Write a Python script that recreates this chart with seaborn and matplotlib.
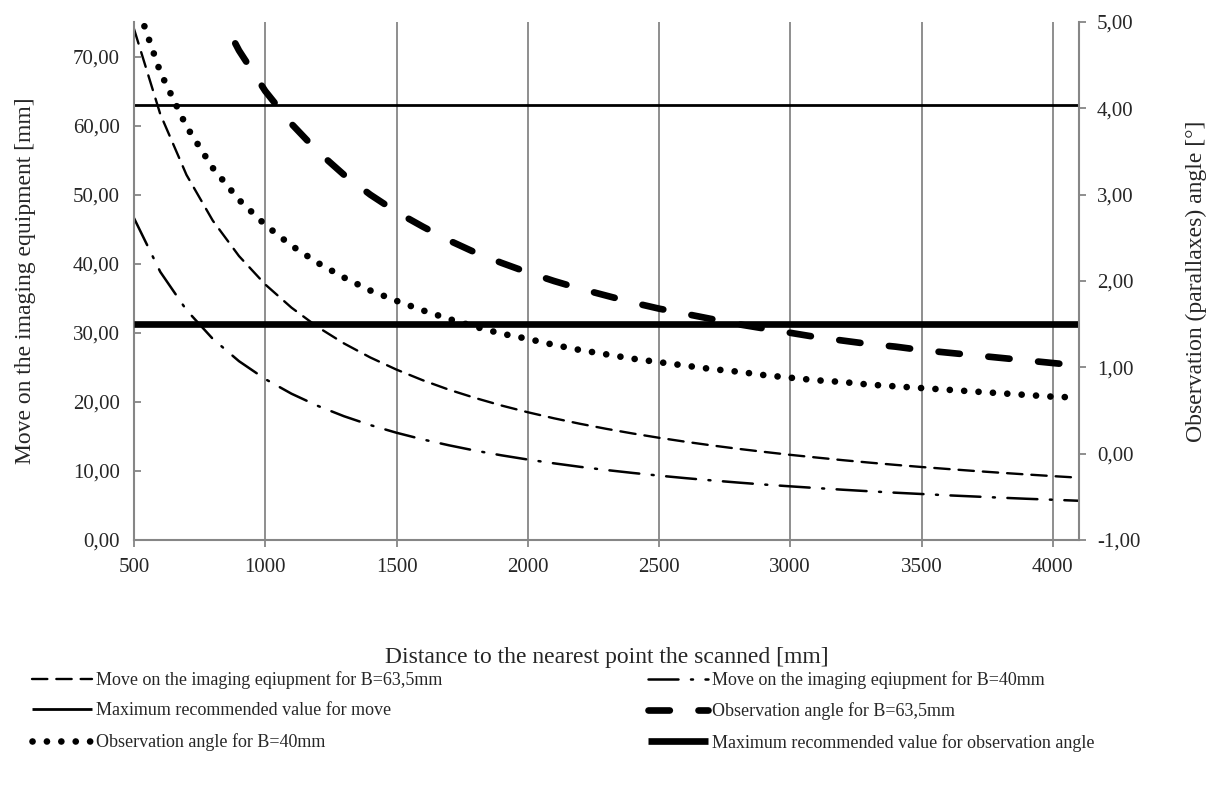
import matplotlib
matplotlib.use("Agg")
import matplotlib.pyplot as plt
import seaborn as sns
from matplotlib.ticker import FuncFormatter, FixedLocator

# ---------------- data ----------------
distance = [500, 600, 700, 800, 900, 1000, 1100, 1200, 1300, 1400, 1500, 1600,
            1700, 1800, 1900, 2000, 2100, 2200, 2300, 2400, 2500, 2600, 2700,
            2800, 2900, 3000, 3100, 3200, 3300, 3400, 3500, 3600, 3700, 3800,
            3900, 4000, 4100]

move_b635 = [74.0, 61.67, 52.86, 46.25, 41.11, 37.0, 33.64, 30.83, 28.46, 26.43,
             24.67, 23.13, 21.76, 20.56, 19.47, 18.5, 17.62, 16.82, 16.09, 15.42,
             14.8, 14.23, 13.70, 13.21, 12.76, 12.33, 11.94, 11.56, 11.21, 10.88,
             10.57, 10.28, 10.0, 9.74, 9.49, 9.25, 9.02]

move_b40 = [46.6, 38.83, 33.29, 29.13, 25.89, 23.3, 21.18, 19.42, 17.92, 16.64,
            15.53, 14.56, 13.71, 12.94, 12.26, 11.65, 11.10, 10.59, 10.13, 9.71,
            9.32, 8.96, 8.63, 8.32, 8.03, 7.77, 7.52, 7.28, 7.06, 6.85,
            6.66, 6.47, 6.30, 6.13, 5.97, 5.83, 5.68]

angle_b635 = [8.40, 7.00, 6.00, 5.25, 4.67, 4.20, 3.82, 3.50, 3.23, 3.00,
              2.80, 2.63, 2.47, 2.33, 2.21, 2.10, 2.00, 1.91, 1.83, 1.75,
              1.68, 1.62, 1.56, 1.50, 1.45, 1.40, 1.35, 1.31, 1.27, 1.24,
              1.20, 1.17, 1.14, 1.11, 1.08, 1.05, 1.02]

angle_b40 = [5.30, 4.42, 3.79, 3.31, 2.94, 2.65, 2.41, 2.21, 2.04, 1.89,
             1.77, 1.66, 1.56, 1.47, 1.39, 1.33, 1.26, 1.20, 1.15, 1.10,
             1.06, 1.02, 0.98, 0.95, 0.91, 0.88, 0.85, 0.83, 0.80, 0.78,
             0.76, 0.74, 0.72, 0.70, 0.68, 0.66, 0.65]

max_move_value = 63.0     # mm, left axis
max_angle_value = 1.5     # degrees, right axis

x_ticks = [500, 1000, 1500, 2000, 2500, 3000, 3500, 4000]
left_ticks = [0, 10, 20, 30, 40, 50, 60, 70]
right_ticks = [-1, 0, 1, 2, 3, 4, 5]

labels = {
    "move_b635": "Move on the imaging eqiupment for B=63,5mm",
    "move_b40": "Move on the imaging eqiupment for B=40mm",
    "max_move": "Maximum recommended value for move",
    "angle_b635": "Observation angle for B=63,5mm",
    "angle_b40": "Observation angle for B=40mm",
    "max_angle": "Maximum recommended value for observation angle",
}

# ---------------- style ----------------
sns.set_theme(style="white")
plt.rcParams["font.family"] = ["Liberation Serif", "DejaVu Serif"]

GRID = "#868686"
fig = plt.figure(figsize=(12.18, 7.91), dpi=100)
ax = fig.add_axes([134 / 1218, 1 - 540 / 791, (1079 - 134) / 1218, (540 - 22) / 791])
ax2 = ax.twinx()

n = len(distance)

# left-axis series
sns.lineplot(x=distance, y=move_b635, ax=ax, color="black", lw=1.7,
             linestyle=(0, (6.5, 3.8)), label=labels["move_b635"])
sns.lineplot(x=distance, y=move_b40, ax=ax, color="black", lw=1.8,
             linestyle=(0, (12, 5, 0.8, 5)), label=labels["move_b40"])
sns.lineplot(x=distance, y=[max_move_value] * n, ax=ax, color="black", lw=2.0,
             linestyle="-", label=labels["max_move"])

# right-axis series
sns.lineplot(x=distance, y=angle_b635, ax=ax2, color="black", lw=4.8,
             linestyle=(0, (3.2, 4.3)), label=labels["angle_b635"])
sns.lineplot(x=distance, y=angle_b40, ax=ax2, color="black", lw=4.8,
             linestyle=(0, (0.01, 2.15)), label=labels["angle_b40"])
sns.lineplot(x=distance, y=[max_angle_value] * n, ax=ax2, color="black", lw=4.8,
             linestyle="-", label=labels["max_angle"])

for line in ax.get_lines() + ax2.get_lines():
    line.set_dash_capstyle("round")
    line.set_solid_capstyle("butt")

h1, l1 = ax.get_legend_handles_labels()
h2, l2 = ax2.get_legend_handles_labels()
if ax.get_legend():
    ax.get_legend().remove()
if ax2.get_legend():
    ax2.get_legend().remove()
hd = dict(zip(l1 + l2, h1 + h2))

# axes limits and ticks
ax.set_xlim(500, 4100)
ax.set_ylim(0, 75)
ax2.set_ylim(-1, 5)
ax.xaxis.set_major_locator(FixedLocator(x_ticks))
ax.yaxis.set_major_locator(FixedLocator(left_ticks))
ax2.yaxis.set_major_locator(FixedLocator(right_ticks))

comma = FuncFormatter(lambda v, p: f"{v:.2f}".replace(".", ","))
ax.yaxis.set_major_formatter(comma)
ax2.yaxis.set_major_formatter(comma)
ax.xaxis.set_major_formatter(FuncFormatter(lambda v, p: f"{int(v)}"))

ax.grid(axis="x", color=GRID, lw=1.3)
ax.grid(axis="y", visible=False)
ax2.grid(False)

for a in (ax, ax2):
    for s in a.spines.values():
        s.set_color(GRID)
        s.set_linewidth(1.5)
    a.spines["top"].set_visible(False)
ax2.spines["left"].set_visible(False)
ax2.spines["bottom"].set_visible(False)
ax.spines["right"].set_visible(False)

TICK_FS = 15
ax.tick_params(axis="x", direction="out", length=5, width=1.3, color=GRID,
               labelsize=TICK_FS, pad=8, bottom=True)
ax.tick_params(axis="y", direction="in", length=5, width=1.3, color=GRID,
               labelsize=TICK_FS, pad=10, left=True)
ax2.tick_params(axis="y", direction="out", length=5, width=1.3, color=GRID,
                labelsize=TICK_FS, pad=8, right=True)

ax.set_xlabel("Distance to the nearest point the scanned [mm]", fontsize=17, labelpad=50)
ax.set_ylabel("Move on the imaging equipment [mm]", fontsize=17, labelpad=27)
ax2.set_ylabel("Observation (parallaxes) angle [°]", fontsize=17, labelpad=33)

# legends: two columns
col1 = [labels["move_b635"], labels["max_move"], labels["angle_b40"]]
col2 = [labels["move_b40"], labels["angle_b635"], labels["max_angle"]]
legkw = dict(frameon=False, fontsize=13, handlelength=3.3, handletextpad=0.22,
             labelspacing=0.75, borderaxespad=0, borderpad=0)
fig.legend([hd[k] for k in col1], col1, loc="upper left",
           bbox_to_anchor=(32 / 1218, 1 - 671 / 791), **legkw)
fig.legend([hd[k] for k in col2], col2, loc="upper left",
           bbox_to_anchor=(648 / 1218, 1 - 671 / 791), **legkw)

fig.savefig("out.png", dpi=100)
